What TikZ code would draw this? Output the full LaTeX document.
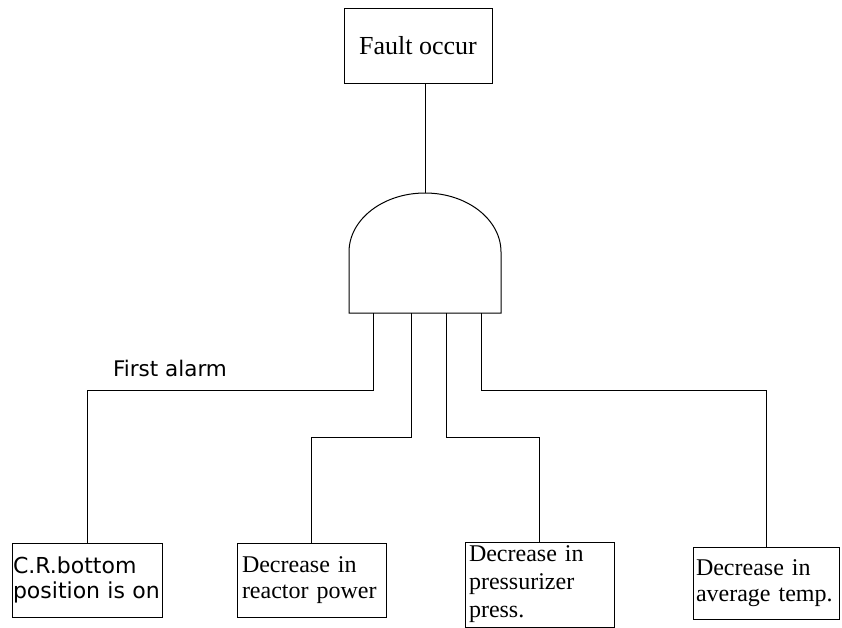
\documentclass[tikz,border=0pt]{standalone}
\usepackage{fontspec}
\setmainfont{Liberation Serif}
\newfontfamily\gothicfont{DejaVu Sans}
\usetikzlibrary{positioning}

\begin{document}
\begin{tikzpicture}[x=1pt,y=1pt,line width=1pt,
  event/.style={rectangle,draw,inner sep=4pt,align=left,font=\fontsize{24}{26}\selectfont},
  lbl/.style={font=\gothicfont\fontsize{21.5}{24}\selectfont}]
\useasboundingbox (0,0) rectangle (842,-627);
% top event
\node[event,minimum width=148,minimum height=75,align=center,font=\fontsize{26}{30}\selectfont] (top) at (418,-45.5) {Fault occur};
% and gate
\draw (349,-313) -- (349,-252) arc[start angle=180,end angle=0,x radius=76,y radius=59] -- (501,-313) -- cycle;
\coordinate (gtop) at (425,-193);
\foreach \i/\x in {1/373,2/411,3/446,4/481} \coordinate (in\i) at (\x,-313);
\draw (top.south -| gtop) -- (gtop);
% basic events
\node[event,inner sep=1pt,text width=148,minimum height=74,font=\gothicfont\fontsize{22}{25}\selectfont] (cr) at (87,-580) {C.R.bottom\\position is on};
\node[event,inner xsep=5pt,text width=139,minimum height=74] (rp) at (311.5,-580) {Decrease in\\reactor power};
\node[event,text width=141,minimum height=83,font=\fontsize{24}{28}\selectfont] (pp) at (539.5,-584.5) {Decrease in\\pressurizer\\press.};
\node[event,inner xsep=3pt,text width=140,minimum height=72] (tp) at (766,-583) {Decrease in\\average temp.};
\foreach \s/\t/\d in {in1/cr/77,in2/rp/124,in3/pp/124,in4/tp/77} \draw (\s) -- ++(0,-\d) -| (\t.north);
\node[lbl] (alarm) at (170,-368) {First alarm};
\end{tikzpicture}
\end{document}
